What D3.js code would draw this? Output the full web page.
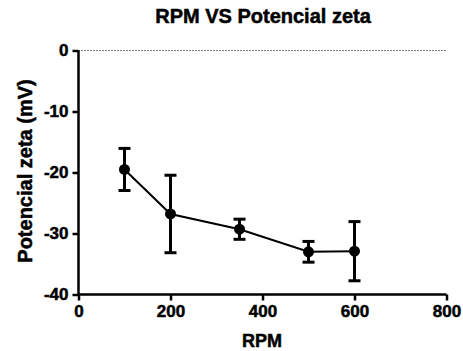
<!DOCTYPE html>
<html>
<head>
<meta charset="utf-8">
<script src="https://cdn.jsdelivr.net/npm/d3@7"></script>
<style>
  body { margin: 0; background: #fff; }
  svg text { font-family: Arial, "Liberation Sans", sans-serif; font-weight: 700; fill: #000; stroke: #000; stroke-width: 0.5px; }
</style>
</head>
<body>
<div id="chart"></div>
<script>
// data
const rpm = [100, 200, 350, 500, 600];
const zeta = [-19.5, -26.8, -29.3, -33.0, -32.9];
const sd = [3.45, 6.35, 1.65, 1.7, 4.85];
const xTicks = [0, 200, 400, 600, 800];
const yTicks = [0, -10, -20, -30, -40];

const width = 463, height = 351;
const margin = { top: 50.5, right: 16.5, bottom: 56.5, left: 78.5 };
const innerW = width - margin.left - margin.right;
const innerH = height - margin.top - margin.bottom;

const svg = d3.select("#chart")
    .append("svg")
    .attr("width", width)
    .attr("height", height);

const g = svg.append("g")
    .attr("transform", `translate(${margin.left},${margin.top})`);

const xScale = d3.scaleLinear().domain([0, 800]).range([0, innerW]);
const yScale = d3.scaleLinear().domain([-40, 0]).range([innerH, 0]);

// dotted zero line
g.append("line")
    .attr("x1", 0).attr("x2", xScale(800))
    .attr("y1", yScale(0)).attr("y2", yScale(0))
    .attr("stroke", "#000")
    .attr("stroke-width", 1)
    .attr("stroke-dasharray", "1,2");

// axes (plain hyphen for negatives, like the original)
const fmt = d => String(d);
const xAxisG = g.append("g")
    .attr("transform", `translate(0,${innerH})`)
    .call(d3.axisBottom(xScale).tickValues(xTicks).tickSize(6).tickPadding(4).tickFormat(fmt));

const yAxisG = g.append("g")
    .call(d3.axisLeft(yScale).tickValues(yTicks).tickSize(6).tickPadding(4).tickFormat(fmt));

[xAxisG, yAxisG].forEach(a => {
    a.attr("font-family", null).attr("font-size", null);
    a.select(".domain").attr("stroke-width", 2.5);
    a.selectAll(".tick line").attr("stroke-width", 2.5);
    a.selectAll("text").style("font-size", "17px");
});
xAxisG.select(".domain").attr("d", `M0,0H${innerW}`);
yAxisG.select(".domain").attr("d", `M0,0V${innerH}`);

// error bars
const pts = rpm.map((r, i) => ({ x: r, y: zeta[i], sd: sd[i] }));

const eb = g.selectAll(".eb").data(pts).enter().append("g").attr("class", "eb");
eb.append("line")
    .attr("x1", d => xScale(d.x)).attr("x2", d => xScale(d.x))
    .attr("y1", d => yScale(d.y + d.sd)).attr("y2", d => yScale(d.y - d.sd))
    .attr("stroke", "#000").attr("stroke-width", 3);
[1, -1].forEach(s => {
    eb.append("line")
        .attr("x1", d => xScale(d.x) - 6).attr("x2", d => xScale(d.x) + 6)
        .attr("y1", d => yScale(d.y + s * d.sd)).attr("y2", d => yScale(d.y + s * d.sd))
        .attr("stroke", "#000").attr("stroke-width", 3);
});

// line
const line = d3.line()
    .x(d => xScale(d.x))
    .y(d => yScale(d.y));
g.append("path")
    .attr("fill", "none")
    .attr("stroke", "#000")
    .attr("stroke-width", 2)
    .attr("d", line(pts));

// points
g.selectAll(".pt").data(pts).enter()
    .append("circle")
    .attr("class", "pt")
    .attr("cx", d => xScale(d.x))
    .attr("cy", d => yScale(d.y))
    .attr("r", 5.5)
    .attr("fill", "#000");

// title
svg.append("text")
    .attr("x", 263)
    .attr("y", 23)
    .attr("text-anchor", "middle")
    .style("font-size", "20px")
    .text("RPM VS Potencial zeta");

// axis labels
svg.append("text")
    .attr("x", 262)
    .attr("y", 346.5)
    .attr("text-anchor", "middle")
    .style("font-size", "18px")
    .text("RPM");

svg.append("text")
    .attr("transform", "rotate(-90)")
    .attr("x", -171)
    .attr("y", 31.5)
    .attr("text-anchor", "middle")
    .style("font-size", "20px")
    .text("Potencial zeta (mV)");
</script>
</body>
</html>
